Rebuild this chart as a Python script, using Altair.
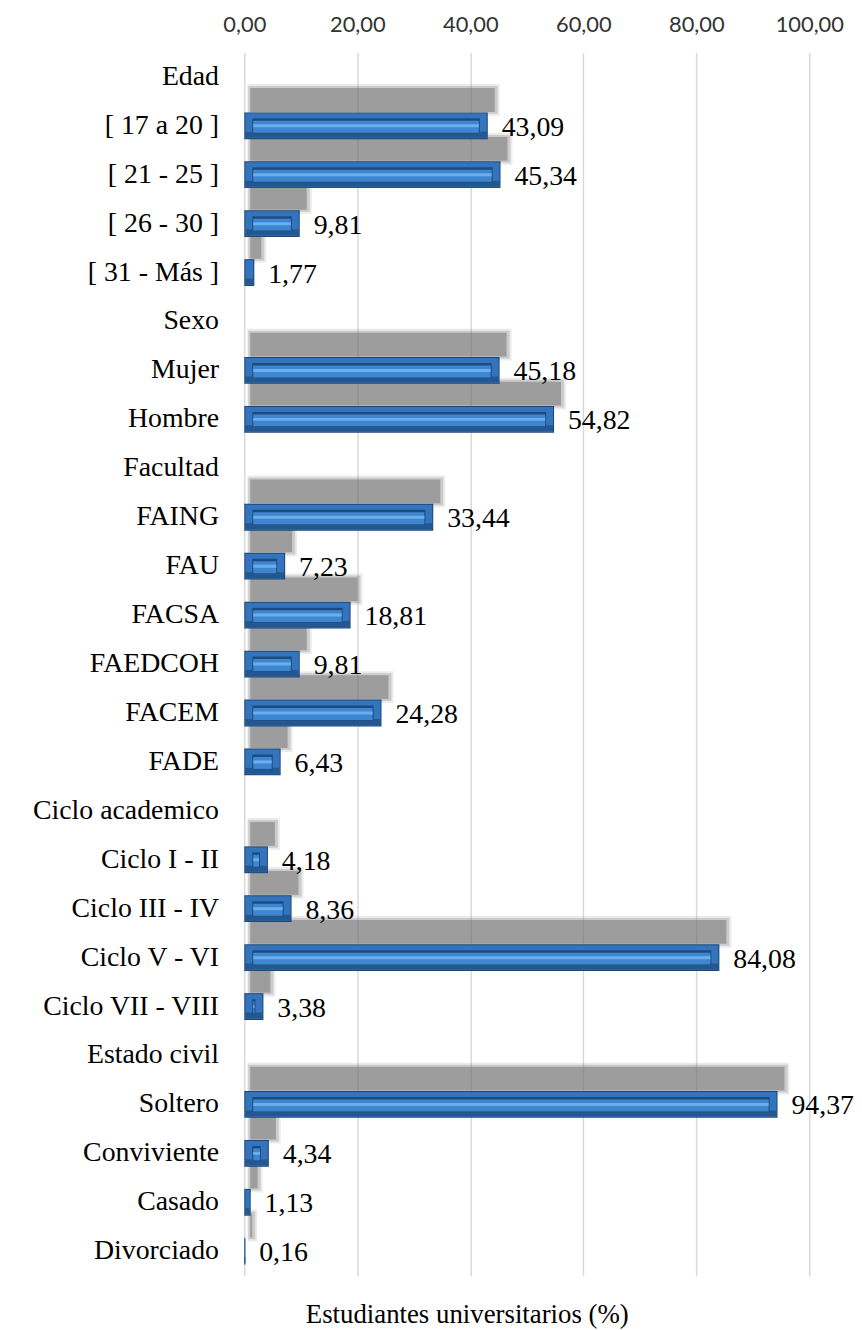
import altair as alt
import pandas as pd

categories = ["Edad", "[ 17 a 20 ]", "[ 21 - 25 ]", "[ 26 - 30 ]", "[ 31 - Más ]",
              "Sexo", "Mujer", "Hombre",
              "Facultad", "FAING", "FAU", "FACSA", "FAEDCOH", "FACEM", "FADE",
              "Ciclo academico", "Ciclo I - II", "Ciclo III -  IV", "Ciclo V - VI", "Ciclo VII - VIII",
              "Estado civil", "Soltero", "Conviviente", "Casado", "Divorciado"]
values = [None, 43.09, 45.34, 9.81, 1.77,
          None, 45.18, 54.82,
          None, 33.44, 7.23, 18.81, 9.81, 24.28, 6.43,
          None, 4.18, 8.36, 84.08, 3.38,
          None, 94.37, 4.34, 1.13, 0.16]
x_ticks = [0, 20, 40, 60, 80, 100]

df = pd.DataFrame({"cat": categories, "value": values})

SERIF = "Liberation Serif"

y_enc = alt.Y("cat:N", sort=categories,
              scale=alt.Scale(domain=categories, paddingInner=0, paddingOuter=0),
              axis=alt.Axis(title=None, ticks=False, domain=False, grid=False,
                            labelFont=SERIF, labelFontSize=28, labelColor="#000000",
                            labelPadding=26, labelLimit=400))
x_enc = alt.X("start:Q", scale=alt.Scale(domain=[0, 100], nice=False),
              axis=alt.Axis(orient="top", values=x_ticks, title=None, ticks=False, domain=False,
                            grid=True, gridColor="#d9d9d9", gridWidth=1.5,
                            labelFont="Lato", labelFontSize=22, labelColor="#333333",
                            labelPadding=16, labelFlush=False, labelOverlap=False,
                            labelExpr="replace(format(datum.value, '.2f'), '.', ',')"))

base = (alt.Chart(df)
        .transform_filter("isValid(datum.value)")
        .transform_calculate(start="0",
                             label="replace(format(datum.value, '.2f'), '.', ',')")
        .encode(y=y_enc))

bar_enc = dict(x=x_enc, x2="value:Q")

shadow_outer = base.mark_bar(color="#909090", opacity=0.18, size=32,
                             yOffset=-26, xOffset=3, x2Offset=12).encode(**bar_enc)
shadow_mid = base.mark_bar(color="#7a7a7a", opacity=0.28, size=28,
                           yOffset=-26, xOffset=4, x2Offset=10).encode(**bar_enc)
shadow_inner = base.mark_bar(color="#666666", opacity=0.45, size=24,
                             yOffset=-26, xOffset=6, x2Offset=7).encode(**bar_enc)

outer = base.mark_bar(color="#1c4677", size=27).encode(**bar_enc)
face = base.mark_bar(color="#3474bc", size=25, xOffset=1, x2Offset=-1).encode(**bar_enc)
bottom_bevel = base.mark_bar(color="#24578f", size=6, yOffset=9,
                             xOffset=1, x2Offset=-1).encode(**bar_enc)
big = base.transform_filter("datum.value >= 3")
inner_outline = big.mark_bar(color="#1e4b7f", size=15, xOffset=8, x2Offset=-8).encode(**bar_enc)
inner_fill = big.mark_bar(color="#3f86d1", size=12, yOffset=1,
                          xOffset=9, x2Offset=-9).encode(**bar_enc)
highlight = big.mark_bar(color="#6aaeec", size=3, yOffset=0,
                         xOffset=9, x2Offset=-9).encode(**bar_enc)

text = base.mark_text(align="left", baseline="middle", dx=14, dy=2, font=SERIF,
                      fontSize=28, color="#000000").encode(
    x=alt.X("value:Q"), text="label:N")

chart = (alt.layer(shadow_outer, shadow_mid, shadow_inner, outer, face, bottom_bevel,
                   inner_outline, inner_fill, highlight, text)
         .properties(width=569, height=1232,
                     padding={"left": 24, "top": 1, "right": 0, "bottom": 0},
                     title=alt.TitleParams("Estudiantes universitarios (%)", orient="bottom",
                                           anchor="middle", font=SERIF, fontSize=27,
                                           fontWeight="normal", color="#000000",
                                           offset=27, dx=-60))
         .configure_view(stroke=None))

chart.save("out.html", embed_options={"renderer": "svg", "actions": False})
